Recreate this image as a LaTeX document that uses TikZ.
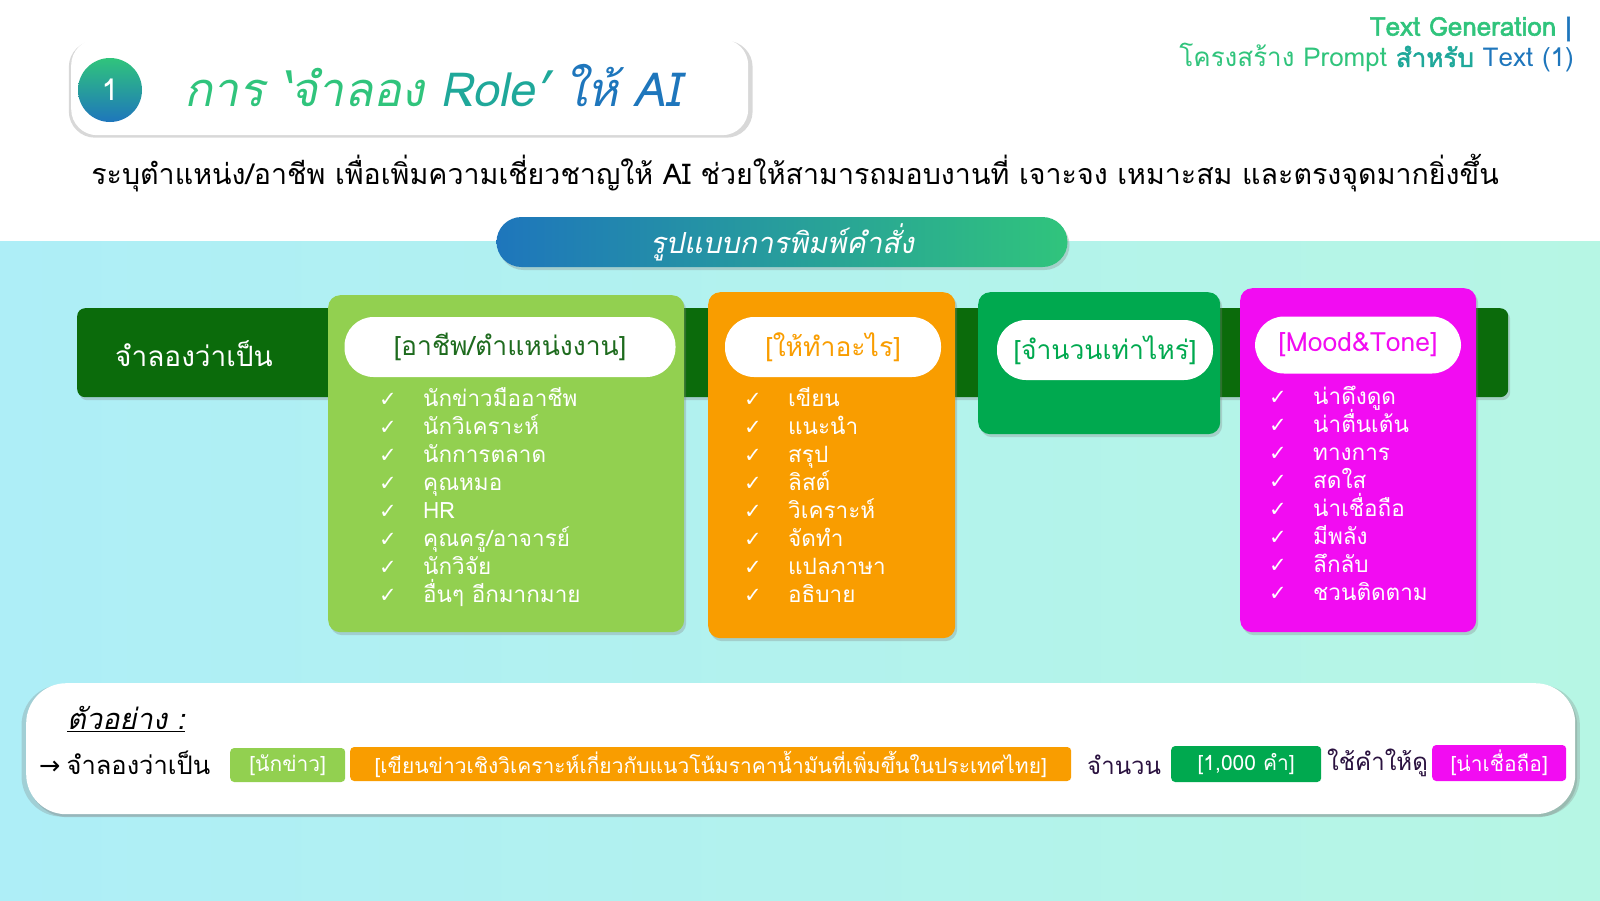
\documentclass[tikz,border=0pt]{standalone}
\usepackage{fontspec}
\setmainfont[Script=Thai,AutoFakeSlant=0.2,AutoFakeBold=2]{Loma}
\newfontfamily\symfont{DejaVu Sans}
\usetikzlibrary{shadows,positioning}
\definecolor{darkbar}{HTML}{0B6B0B}
\definecolor{leaf}{HTML}{92D050}
\definecolor{amber}{HTML}{F99D00}
\definecolor{jade}{HTML}{00A94F}
\definecolor{magentax}{HTML}{F20CF2}
\definecolor{headgreen}{HTML}{1E6B1E}
\definecolor{skyl}{HTML}{AEEEF7}
\definecolor{mint}{HTML}{B6F6E4}
\definecolor{tealx}{HTML}{1FA89A}
\definecolor{seagreen}{HTML}{30C47C}
\definecolor{ocean}{HTML}{1E76BC}
\definecolor{plum}{HTML}{2B1240}
\newcommand{\fs}[1]{\fontsize{#1}{#1}\selectfont}
\newcommand{\tick}{{\symfont ✓}}

\begin{document}
\begin{tikzpicture}[x=1pt,y=-1pt,
  shadowed/.style={drop shadow={opacity=.3,shadow xshift=2pt,shadow yshift=-3pt}},
  glow/.style={drop shadow={opacity=.3,shadow xshift=1pt,shadow yshift=-2pt,shadow scale=1.01}},
  card/.style={shadowed,rounded corners=12pt,anchor=north west,inner sep=0pt},
  pill/.style={fill=white,rounded corners=29pt,minimum height=60pt,inner sep=0pt,font=\fs{26.5}},
  item/.style={anchor=base west,text=white,font=\fs{22.5},inner sep=0pt},
  tickmark/.style={anchor=base,text=white,font=\fs{21},inner sep=0pt},
  chip/.style={anchor=west,rounded corners=4pt,minimum height=34pt,inner sep=0pt,text=white,font=\fs{21}}
]
\fill[white] (0,0) rectangle (1600,900);
\shade[left color=skyl,right color=mint] (0,241) rectangle (1600,900);

\node[glow,fill=white,rounded corners=26pt,anchor=north west,minimum width=677pt,minimum height=96pt] (titlebox) at (71,39) {};
\node[circle,top color=seagreen,bottom color=ocean,minimum size=64pt,inner sep=0pt,text=white,font=\fs{30}] (num) at (110,90) {1};
\node[anchor=west,font=\fs{47}\itshape,inner sep=0pt] (title) at (184,86)
  {\textcolor{seagreen}{การ ‘จำลอง} \textcolor{tealx}{Role’} \textcolor{ocean}{ให้ AI}};

\node[anchor=east,font=\fs{26}\bfseries,text=seagreen,inner sep=0pt] (series) at (1572,29) {Text Generation \textcolor{ocean}{|}};
\node[anchor=east,font=\fs{26},inner sep=0pt] (part) at (1574,58)
  {\textcolor{seagreen}{โครงสร้าง Prompt} \textcolor{tealx}{\bfseries สำหรับ} \textcolor{ocean}{Text (1)}};

\node[font=\fs{28.6},inner sep=0pt] (lead) at (795,173)
  {ระบุตำแหน่ง/อาชีพ เพื่อเพิ่มความเชี่ยวชาญให้ AI ช่วยให้สามารถมอบงานที่ เจาะจง เหมาะสม และตรงจุดมากยิ่งขึ้น};

\node[shadowed,left color=ocean,right color=seagreen,rounded corners=25pt,minimum width=571pt,minimum height=50pt,
  text=white,font=\fs{29}\itshape] (format) at (782,242) {รูปแบบการพิมพ์คำสั่ง};

\node[card,fill=darkbar,rounded corners=8pt,minimum width=1431pt,minimum height=89pt] (bar) at (77,308) {};
\node[anchor=center,text=white,font=\fs{28}] (pretend) at (194,354) {จำลองว่าเป็น};

\node[card,fill=leaf,minimum width=356pt,minimum height=337pt] (job) at (328,295) {};
\node[pill,minimum width=331pt,text=headgreen] (jobhead) at (510,347) {[อาชีพ/ตำแหน่งงาน]};
\foreach \t [count=\i] in {นักข่าวมืออาชีพ,นักวิเคราะห์,นักการตลาด,คุณหมอ,HR,คุณครู/อาจารย์,นักวิจัย,อื่นๆ อีกมากมาย}{
  \node[tickmark] (jobmark\i) at (388,378+28*\i) {\tick};
  \node[item] (job\i) at (423,378+28*\i) {\t};
}

\node[card,fill=amber,minimum width=247pt,minimum height=346pt] (task) at (708,292) {};
\node[pill,minimum width=216pt,text=amber] (taskhead) at (833,347) {[ให้ทำอะไร]};
\foreach \t [count=\i] in {เขียน,แนะนำ,สรุป,ลิสต์,วิเคราะห์,จัดทำ,แปลภาษา,อธิบาย}{
  \node[tickmark] (taskmark\i) at (753,378+28*\i) {\tick};
  \node[item] (task\i) at (788,378+28*\i) {\t};
}

\node[card,fill=jade,minimum width=242pt,minimum height=142pt] (amount) at (978,292) {};
\node[pill,minimum width=216pt,text=jade] (amounthead) at (1105,350) {[จำนวนเท่าไหร่]};

\node[card,fill=magentax,minimum width=236pt,minimum height=344pt] (mood) at (1240,288) {};
\node[pill,minimum width=206pt,minimum height=57pt,text=magentax] (moodhead) at (1358,345) {[Mood\&Tone]};
\foreach \t [count=\i] in {น่าดึงดูด,น่าตื่นเต้น,ทางการ,สดใส,น่าเชื่อถือ,มีพลัง,ลึกลับ,ชวนติดตาม}{
  \node[tickmark] (moodmark\i) at (1278,376+28*\i) {\tick};
  \node[item] (mood\i) at (1313,376+28*\i) {\t};
}

\node[card,drop shadow={opacity=.28,shadow xshift=0pt,shadow yshift=-2pt,shadow scale=1.006},fill=white,rounded corners=40pt,
  minimum width=1549pt,minimum height=131pt] (example) at (26,683) {};
\node[anchor=west,font=\fs{29}\itshape,inner sep=0pt] (extitle) at (67,719) {\underline{ตัวอย่าง :}};
\node[anchor=west,font=\fs{25.5},inner sep=0pt] (exstart) at (39,763) {{\symfont →}\hspace{6pt}จำลองว่าเป็น};
\node[chip,fill=leaf,minimum width=115pt] (exjob) at (230,765) {[นักข่าว]};
\node[chip,fill=amber,minimum width=721pt] (extask) at (350,764) {[เขียนข่าวเชิงวิเคราะห์เกี่ยวกับแนวโน้มราคาน้ำมันที่เพิ่มขึ้นในประเทศไทย]};
\node[anchor=west,font=\fs{24},text=plum,inner sep=0pt] (excount) at (1087,765) {จำนวน};
\node[chip,fill=jade,minimum width=150pt,minimum height=36pt] (examount) at (1171,764) {[1,000 คำ]};
\node[anchor=west,font=\fs{24},text=plum,inner sep=0pt] (exuse) at (1327,763) {ใช้คำให้ดู};
\node[chip,fill=magentax,minimum width=134pt,minimum height=36pt] (exmood) at (1432,763) {[น่าเชื่อถือ]};
\end{tikzpicture}
\end{document}
